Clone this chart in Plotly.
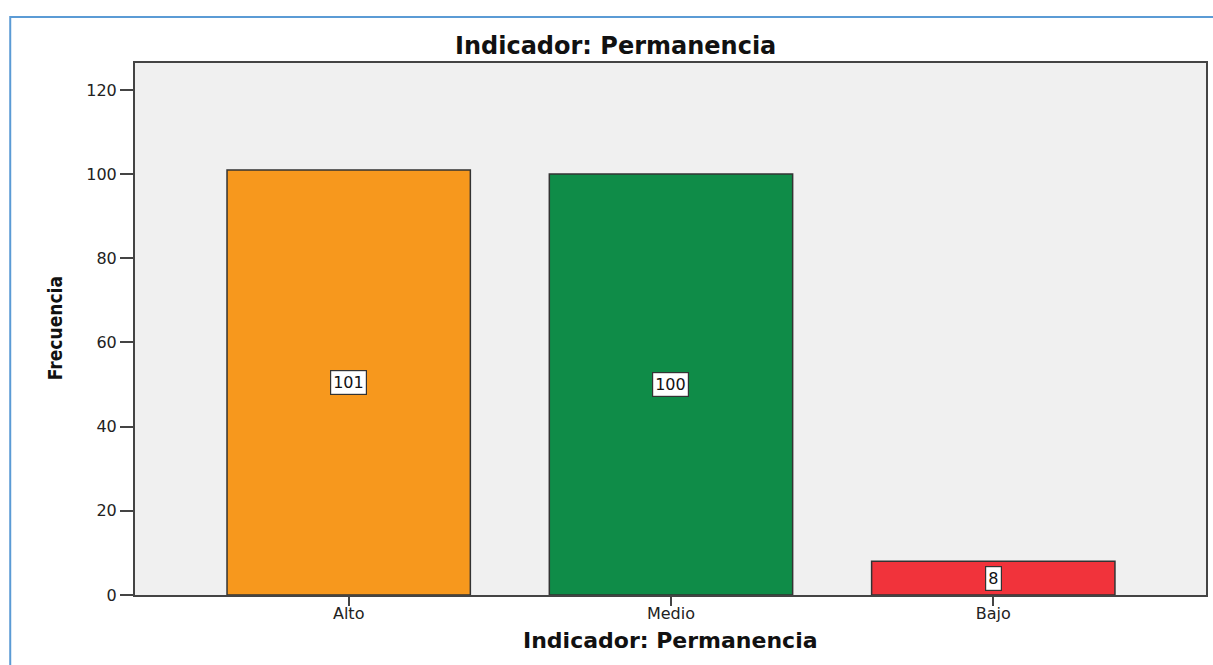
import plotly.graph_objects as go

categories = ["Alto", "Medio", "Bajo"]
values = [101, 100, 8]
colors = ["#F7981D", "#0F8C48", "#F1333B"]
y_ticks = [0, 20, 40, 60, 80, 100, 120]
title_text = "Indicador: Permanencia"
x_title = "Indicador: Permanencia"
y_title = "Frecuencia"

W, H = 1213, 665
L, R, T, B = 135, 5, 63, 70
pw, ph = W - L - R, H - T - B

def px(x):
    return (x - L) / pw

def py(y):
    return (H - B - y) / ph

WIDE = "DejaVu Sans, Verdana, Arial"

fig = go.Figure()
fig.add_trace(go.Bar(
    x=categories, y=values,
    marker=dict(color=colors, line=dict(color="#333333", width=1.5)),
    width=0.755, hoverinfo="skip",
))

annotations = []
for c, v in zip(categories, values):
    annotations.append(dict(
        x=c, y=v / 2, xref="x", yref="y", text=str(v), showarrow=False,
        font=dict(family=WIDE, size=16, color="#111111"),
        bgcolor="white", bordercolor="#333333", borderwidth=1.2, borderpad=2,
    ))

annotations += [
    dict(x=px(616), y=py(46), xref="paper", yref="paper", text="<b>" + title_text + "</b>",
         showarrow=False, font=dict(family=WIDE, size=24, color="#111111"),
         xanchor="center", yanchor="middle"),
    dict(x=px(672), y=py(640), xref="paper", yref="paper", text="<b>" + x_title + "</b>",
         showarrow=False, font=dict(family=WIDE, size=22, color="#111111"),
         xanchor="center", yanchor="middle"),
    dict(x=px(55), y=py(328), xref="paper", yref="paper", text="<b>" + y_title + "</b>",
         showarrow=False, textangle=-90,
         font=dict(family="Liberation Sans Narrow, DejaVu Sans Condensed, Arial Narrow", size=19, color="#111111"),
         xanchor="center", yanchor="middle"),
]

shapes = [
    dict(type="rect", xref="paper", yref="paper", x0=px(10), y0=py(17), x1=px(1240), y1=py(700),
         line=dict(color="#5B9BD5", width=2), fillcolor="rgba(0,0,0,0)", layer="above"),
]

fig.update_layout(
    width=W, height=H,
    margin=dict(l=L, r=R, t=T, b=B),
    paper_bgcolor="white", plot_bgcolor="#F0F0F0",
    showlegend=False,
    annotations=annotations, shapes=shapes,
    xaxis=dict(
        type="category", range=[-0.663, 2.66],
        showline=True, linecolor="#444444", linewidth=2, mirror=True,
        ticks="outside", ticklen=9, tickwidth=1.5, tickcolor="#444444",
        ticklabelstandoff=-6,
        tickfont=dict(family=WIDE, size=16, color="#222222"),
        showgrid=False, zeroline=False, fixedrange=True,
    ),
    yaxis=dict(
        range=[0, 126.4], tickvals=y_ticks,
        showline=True, linecolor="#444444", linewidth=2, mirror=True,
        ticks="outside", ticklen=13, tickwidth=1.5, tickcolor="#444444",
        tickfont=dict(family=WIDE, size=16, color="#222222"),
        showgrid=False, zeroline=False, fixedrange=True,
    ),
)

fig.write_html(
    "out.html",
    config={"displayModeBar": False},
    post_script="document.body.style.margin='0';document.body.style.overflow='hidden';",
)
